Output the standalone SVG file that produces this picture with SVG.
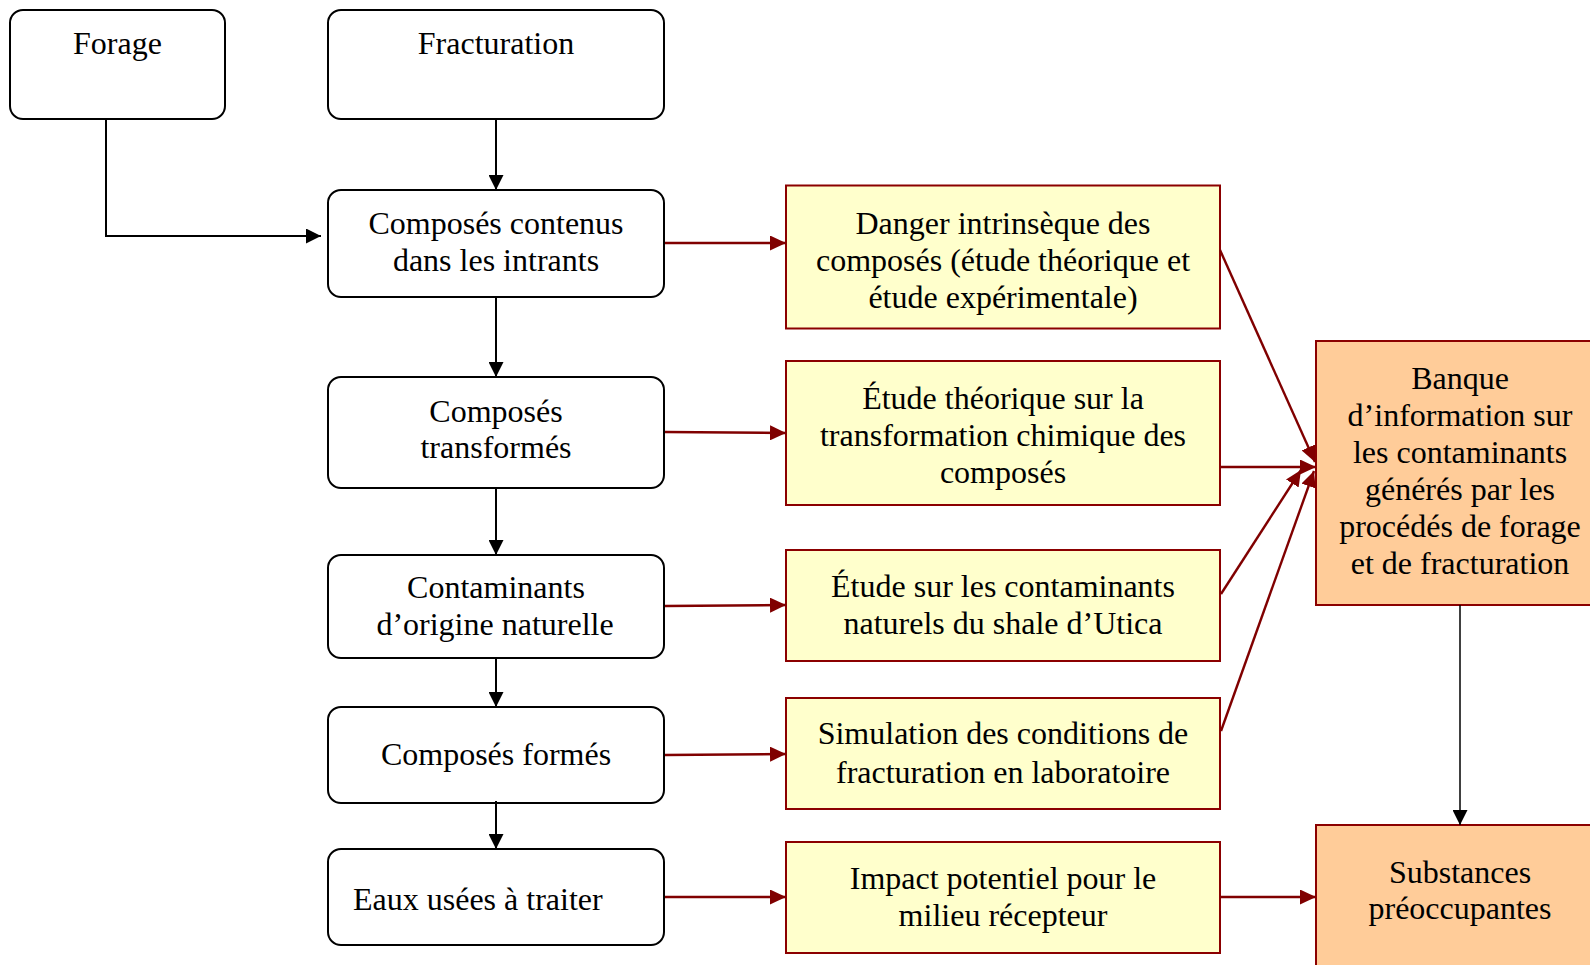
<svg xmlns="http://www.w3.org/2000/svg" width="1590" height="965" viewBox="0 0 1590 965">
  <defs>
    <style>
      text { font-family: "Liberation Serif", "Times New Roman", serif; font-size: 32px; fill: #000; text-anchor: middle; }
      .proc { fill: #fff; stroke: #000; stroke-width: 2; }
      .study { fill: #FFFFCC; stroke: #8B0000; stroke-width: 2; }
      .result { fill: #FFCC99; stroke: #8B0000; stroke-width: 2; }
      .blk { fill: none; stroke: #000; stroke-width: 2; marker-end: url(#ahBlack); }
      .thin { fill: none; stroke: #000; stroke-width: 1.5; marker-end: url(#ahBlack); }
      .red { fill: none; stroke: #800000; stroke-width: 2.4; marker-end: url(#ahRed); }
    </style>
    <marker id="ahBlack" markerUnits="userSpaceOnUse" markerWidth="15" markerHeight="15" refX="15" refY="7.5" orient="auto">
      <path d="M0,0 L15,7.5 L0,15 z" fill="#000"/>
    </marker>
    <marker id="ahRed" markerUnits="userSpaceOnUse" markerWidth="16" markerHeight="15" refX="16" refY="7.5" orient="auto">
      <path d="M0,0 L16,7.5 L0,15 z" fill="#800000"/>
    </marker>
  </defs>

  <rect width="1590" height="965" fill="#fff"/>

  <!-- Process column -->
  <g id="forage">
    <rect class="proc" x="10" y="10" width="215" height="109" rx="13"/>
    <text x="117.5" y="54">Forage</text>
  </g>
  <g id="fracturation">
    <rect class="proc" x="328" y="10" width="336" height="109" rx="13"/>
    <text x="496" y="54">Fracturation</text>
  </g>
  <g id="composes-contenus">
    <rect class="proc" x="328" y="190" width="336" height="107" rx="13"/>
    <text x="496" y="234">Composés contenus</text>
    <text x="496" y="271">dans les intrants</text>
  </g>
  <g id="composes-transformes">
    <rect class="proc" x="328" y="377" width="336" height="111" rx="13"/>
    <text x="496" y="422">Composés</text>
    <text x="496" y="458">transformés</text>
  </g>
  <g id="contaminants-naturels">
    <rect class="proc" x="328" y="555" width="336" height="103" rx="13"/>
    <text x="496" y="598">Contaminants</text>
    <text x="495" y="635">d’origine naturelle</text>
  </g>
  <g id="composes-formes">
    <rect class="proc" x="328" y="707" width="336" height="96" rx="13"/>
    <text x="496" y="765">Composés formés</text>
  </g>
  <g id="eaux-usees">
    <rect class="proc" x="328" y="849" width="336" height="96" rx="13"/>
    <text x="353" y="910" style="text-anchor:start">Eaux usées à traiter</text>
  </g>

  <!-- Studies column -->
  <g id="danger-intrinseque">
    <rect class="study" x="786" y="185.5" width="434" height="143"/>
    <text x="1003" y="234">Danger intrinsèque des</text>
    <text x="1003" y="271">composés (étude théorique et</text>
    <text x="1003" y="308">étude expérimentale)</text>
  </g>
  <g id="etude-transformation">
    <rect class="study" x="786" y="361" width="434" height="144"/>
    <text x="1003" y="409">Étude théorique sur la</text>
    <text x="1003" y="446">transformation chimique des</text>
    <text x="1003" y="483">composés</text>
  </g>
  <g id="etude-contaminants">
    <rect class="study" x="786" y="550" width="434" height="111"/>
    <text x="1003" y="597">Étude sur les contaminants</text>
    <text x="1003" y="634">naturels du shale d’Utica</text>
  </g>
  <g id="simulation">
    <rect class="study" x="786" y="698" width="434" height="111"/>
    <text x="1003" y="744">Simulation des conditions de</text>
    <text x="1003" y="783">fracturation en laboratoire</text>
  </g>
  <g id="impact">
    <rect class="study" x="786" y="842" width="434" height="111"/>
    <text x="1003" y="889">Impact potentiel pour le</text>
    <text x="1003" y="926">milieu récepteur</text>
  </g>

  <!-- Results -->
  <g id="banque">
    <rect class="result" x="1316" y="341" width="290" height="264"/>
    <text x="1460" y="389">Banque</text>
    <text x="1460" y="426">d’information sur</text>
    <text x="1460" y="463">les contaminants</text>
    <text x="1460" y="500">générés par les</text>
    <text x="1460" y="537">procédés de forage</text>
    <text x="1460" y="574">et de fracturation</text>
  </g>
  <g id="substances">
    <rect class="result" x="1316" y="825" width="290" height="150"/>
    <text x="1460" y="883">Substances</text>
    <text x="1460" y="919">préoccupantes</text>
  </g>

  <!-- Connectors -->
  <g id="connectors">
    <polyline class="blk" points="106,118 106,236 321,236"/>
    <line class="blk" x1="496" y1="119" x2="496" y2="190"/>
    <line class="blk" x1="496" y1="297" x2="496" y2="377"/>
    <line class="blk" x1="496" y1="488" x2="496" y2="555"/>
    <line class="blk" x1="496" y1="658" x2="496" y2="707"/>
    <line class="blk" x1="496" y1="801" x2="496" y2="849"/>

    <line class="red" x1="665" y1="243" x2="786" y2="243"/>
    <line class="red" x1="665" y1="432" x2="786" y2="433"/>
    <line class="red" x1="665" y1="606" x2="786" y2="605"/>
    <line class="red" x1="665" y1="755" x2="786" y2="754"/>
    <line class="red" x1="665" y1="897" x2="786" y2="897"/>

    <line class="red" x1="1220" y1="250" x2="1315" y2="462"/>
    <line class="red" x1="1220" y1="467" x2="1316" y2="467"/>
    <line class="red" x1="1221" y1="594" x2="1301" y2="470"/>
    <line class="red" x1="1221" y1="731" x2="1314" y2="471"/>

    <line class="thin" x1="1460" y1="605" x2="1460" y2="825"/>
    <line class="red" x1="1220" y1="897" x2="1316" y2="897"/>
  </g>
</svg>
